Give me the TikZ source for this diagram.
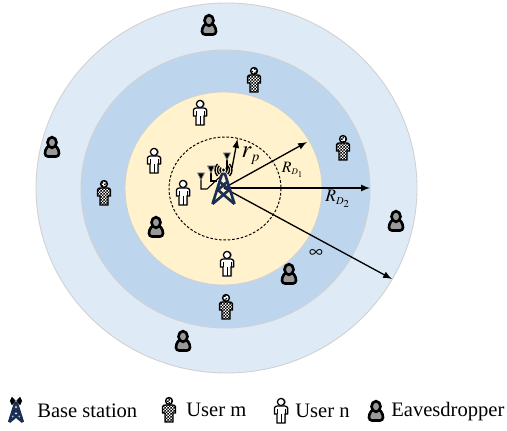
\documentclass[tikz,border=0pt]{standalone}
\usepackage{amsmath}
\usepackage{mathptmx}
\usepackage{fontspec}
\setmainfont{Liberation Serif}
\usetikzlibrary{positioning,arrows,patterns}

\definecolor{zoneout}{HTML}{DEEAF6}
\definecolor{zonemid}{HTML}{BDD6EE}
\definecolor{zonein}{HTML}{FFF2CC}
\definecolor{towerblue}{HTML}{1A2F55}

\pgfdeclarepatternformonly{checks}{\pgfqpoint{0pt}{0pt}}{\pgfqpoint{1.9pt}{1.9pt}}{\pgfqpoint{1.9pt}{1.9pt}}{
    \pgfpathrectangle{\pgfqpoint{0pt}{0pt}}{\pgfqpoint{0.95pt}{0.95pt}}
    \pgfpathrectangle{\pgfqpoint{0.95pt}{0.95pt}}{\pgfqpoint{0.95pt}{0.95pt}}
    \pgfusepath{fill}
}

\newcommand{\bodypath}{(-6.5,3) -- (-6.5,-3) to[out=90,in=180] (-3.5,-5) -- (3.5,-5)
    to[out=0,in=90] (6.5,-3) -- (6.5,3) -- (4,3) -- (4,12) -- (-4,12) -- (-4,3) -- cycle}

\tikzset{
    zone/.style={draw=black!18, line width=0.5pt},
    ray/.style={-latex, line width=0.75pt},
    legend/.style={anchor=base west, inner sep=0pt, font=\fontsize{11.7}{13}\selectfont},
    pics/usern/.style={code={
        \fill[black!40, xshift=0.02cm] (0,-9) circle (4);
        \fill[black!40, xshift=0.02cm] \bodypath;
        \draw[line width=0.7pt, fill=white] (0,-9) circle (3.6);
        \draw[line width=0.7pt, fill=white] \bodypath;
        \draw[line width=0.5pt] (0,3) -- (0,12) (-4,-2) -- (-4,3) (4,-2) -- (4,3);
    }},
    pics/userm/.style={code={
        \fill[white] (0,-9) circle (3.4);
        \fill[white] \bodypath;
        \fill[pattern=checks] (0,-9) circle (3.4);
        \fill[pattern=checks] \bodypath;
        \draw[line width=0.8pt] (0,-9) circle (3.4);
        \draw[line width=0.8pt] \bodypath;
    }},
    pics/eaves/.style={code={
        \draw[line width=1.5pt, fill=black!40] (-7,6.5) to[out=90,in=180] (0,-2)
            to[out=0,in=90] (7,6.5) to[out=-90,in=0] (4,9.5) -- (-4,9.5) to[out=180,in=-90] cycle;
        \draw[line width=1.5pt, fill=black!40] (0,-4.5) ellipse (4.5 and 5.3);
    }},
    pics/tower/.style={code={
        \draw[towerblue, line width=1.5pt, line join=round]
            (-11,34) -- (-1.5,4) -- (1.5,4) -- (11,34)
            (-11,34) -- (5.5,20) -- (-3.5,12) (11,34) -- (-5.5,20) -- (3.5,12);
        \fill (0,0) circle (1.6);
        \draw[line width=0.8pt] (-2.5,2.5) arc (135:225:3.5) (2.5,2.5) arc (45:-45:3.5)
            (-4.2,4.2) arc (135:225:6) (4.2,4.2) arc (45:-45:6)
            (-6,6) arc (135:225:8.5) (6,6) arc (45:-45:8.5);
    }},
}

\begin{document}
\begin{tikzpicture}[x=0.02cm, y=-0.02cm]

    \useasboundingbox (0,0) rectangle (507,431);

    % coverage zones
    \draw[zone, fill=zoneout] (226.5,188) ellipse (190.5 and 185);
    \draw[zone, fill=zonemid] (225.5,189) ellipse (144.5 and 139);
    \draw[zone, fill=zonein] (223.5,188.5) ellipse (98.5 and 96.5);
    \draw[dash pattern=on 1.5pt off 1pt, line width=0.55pt] (225,188.5) ellipse (56 and 51.5);

    \coordinate (bs) at (224,188);
    \coordinate (rpstart) at (232,168);
    \coordinate (rpend) at (237.5,139);
    \coordinate (d1end) at (307,142);
    \coordinate (d2end) at (370,188);
    \coordinate (infend) at (392,279);

    \draw[ray] (rpstart) -- (rpend);
    \draw[ray] (bs) -- (d1end);
    \draw[ray] (bs) -- (d2end);
    \draw[ray] (bs) -- (infend);

    % antennas
    \coordinate (ant1) at (201,176);
    \coordinate (ant2) at (211,169);
    \coordinate (ant3) at (227,156);
    \draw[line width=0.6pt] (ant1) -- (201,189) -- (207,189) -- (222,175);
    \draw[line width=0.6pt] (ant2) -- (211,181) -- (217,181);
    \draw[line width=0.6pt] (ant3) -- (227,170);
    \foreach \a in {ant1,ant2,ant3}
        \fill[draw=black!45, line width=0.5pt, fill=black] (\a) ++(-3.5,-3) -- ++(7,0) -- ++(-3.5,7) -- cycle;

    \pic (bs tower) at (223.5,170) {tower};

    \node (rp) [font=\fontsize{14}{16}\selectfont] at (251,156) {$r_{\scriptscriptstyle p}$};
    \node (rd1) [font=\fontsize{9}{11}\selectfont] at (293,170) {$R_{\scriptscriptstyle D_{1}}$};
    \node (rd2) [font=\fontsize{10}{12}\selectfont] at (338,199) {$R_{\scriptscriptstyle D_{2}}$};
    \node (inf) [font=\fontsize{11}{13}\selectfont] at (316,254) {$\infty$};

    % users
    \pic (m1) at (254,80) {userm};
    \pic (m2) at (343,148) {userm};
    \pic (m3) at (104,193) {userm};
    \pic (m4) at (226,307) {userm};
    \pic (n1) at (200,113) {usern};
    \pic (n2) at (154,161) {usern};
    \pic (n3) at (183,193) {usern};
    \pic (n4) at (227,264) {usern};
    \pic (e1) at (209,25) {eaves};
    \pic (e2) at (52,147) {eaves};
    \pic (e3) at (396,221) {eaves};
    \pic (e4) at (156,227) {eaves};
    \pic (e5) at (289,274) {eaves};
    \pic (e6) at (183,341) {eaves};

    % legend
    \pic[scale=0.62] (lg tower) at (16,401) {tower};
    \pic (lg m) at (169,410) {userm};
    \pic (lg n) at (281,411) {usern};
    \pic (lg e) at (376,411) {eaves};
    \node (lg1) [legend] at (37,418) {Base station};
    \node (lg2) [legend] at (186,417) {User m};
    \node (lg3) [legend] at (295,418) {User n};
    \node (lg4) [legend] at (391,417) {Eavesdropper};

\end{tikzpicture}
\end{document}
